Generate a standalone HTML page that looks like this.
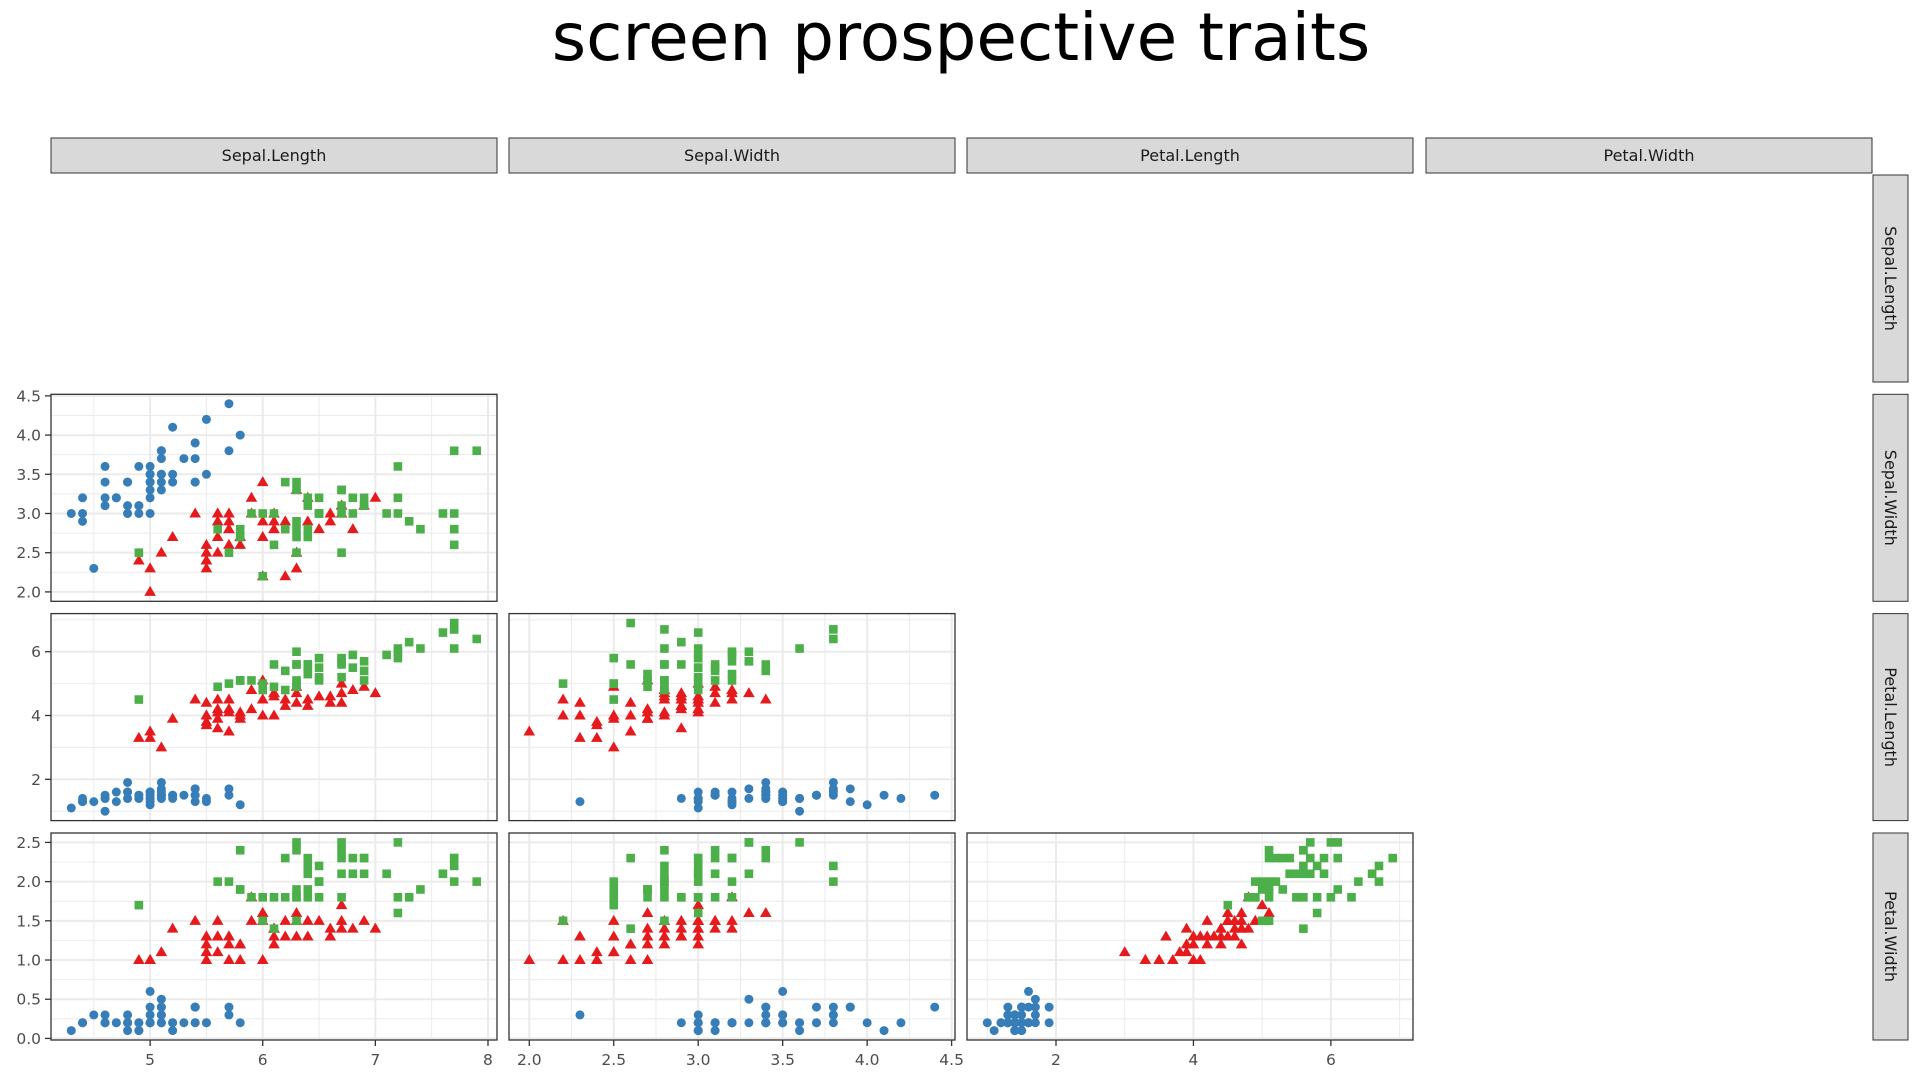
<!DOCTYPE html>
<html><head><meta charset="utf-8"><style>
html,body{margin:0;padding:0;background:#fff;}
svg{display:block;font-family:"DejaVu Sans","Liberation Sans",sans-serif;}
</style></head><body>
<svg id="chart" width="1920" height="1080" viewBox="0 0 1920 1080" xmlns="http://www.w3.org/2000/svg">
<text x="961" y="60" text-anchor="middle" font-size="66" fill="#000">screen prospective traits</text>
</svg>
<script>
const varNames = ["Sepal.Length","Sepal.Width","Petal.Length","Petal.Width"];
const speciesNames = ["setosa","versicolor","virginica"];
const speciesColors = ["#377EB8","#E41A1C","#4DAF4A"];
const sepalLength = [5.1,4.9,4.7,4.6,5.0,5.4,4.6,5.0,4.4,4.9,5.4,4.8,4.8,4.3,5.8,5.7,5.4,5.1,5.7,5.1,5.4,5.1,4.6,5.1,4.8,5.0,5.0,5.2,5.2,4.7,4.8,5.4,5.2,5.5,4.9,5.0,5.5,4.9,4.4,5.1,5.0,4.5,4.4,5.0,5.1,4.8,5.1,4.6,5.3,5.0,
7.0,6.4,6.9,5.5,6.5,5.7,6.3,4.9,6.6,5.2,5.0,5.9,6.0,6.1,5.6,6.7,5.6,5.8,6.2,5.6,5.9,6.1,6.3,6.1,6.4,6.6,6.8,6.7,6.0,5.7,5.5,5.5,5.8,6.0,5.4,6.0,6.7,6.3,5.6,5.5,5.5,6.1,5.8,5.0,5.6,5.7,5.7,6.2,5.1,5.7,
6.3,5.8,7.1,6.3,6.5,7.6,4.9,7.3,6.7,7.2,6.5,6.4,6.8,5.7,5.8,6.4,6.5,7.7,7.7,6.0,6.9,5.6,7.7,6.3,6.7,7.2,6.2,6.1,6.4,7.2,7.4,7.9,6.4,6.3,6.1,7.7,6.3,6.4,6.0,6.9,6.7,6.9,5.8,6.8,6.7,6.7,6.3,6.5,6.2,5.9];
const sepalWidth = [3.5,3.0,3.2,3.1,3.6,3.9,3.4,3.4,2.9,3.1,3.7,3.4,3.0,3.0,4.0,4.4,3.9,3.5,3.8,3.8,3.4,3.7,3.6,3.3,3.4,3.0,3.4,3.5,3.4,3.2,3.1,3.4,4.1,4.2,3.1,3.2,3.5,3.6,3.0,3.4,3.5,2.3,3.2,3.5,3.8,3.0,3.8,3.2,3.7,3.3,
3.2,3.2,3.1,2.3,2.8,2.8,3.3,2.4,2.9,2.7,2.0,3.0,2.2,2.9,2.9,3.1,3.0,2.7,2.2,2.5,3.2,2.8,2.5,2.8,2.9,3.0,2.8,3.0,2.9,2.6,2.4,2.4,2.7,2.7,3.0,3.4,3.1,2.3,3.0,2.5,2.6,3.0,2.6,2.3,2.7,3.0,2.9,2.9,2.5,2.8,
3.3,2.7,3.0,2.9,3.0,3.0,2.5,2.9,2.5,3.6,3.2,2.7,3.0,2.5,2.8,3.2,3.0,3.8,2.6,2.2,3.2,2.8,2.8,2.7,3.3,3.2,2.8,3.0,2.8,3.0,2.8,3.8,2.8,2.8,2.6,3.0,3.4,3.1,3.0,3.1,3.1,3.1,2.7,3.2,3.3,3.0,2.5,3.0,3.4,3.0];
const petalLength = [1.4,1.4,1.3,1.5,1.4,1.7,1.4,1.5,1.4,1.5,1.5,1.6,1.4,1.1,1.2,1.5,1.3,1.4,1.7,1.5,1.7,1.5,1.0,1.7,1.9,1.6,1.6,1.5,1.4,1.6,1.6,1.5,1.5,1.4,1.5,1.2,1.3,1.4,1.3,1.5,1.3,1.3,1.3,1.6,1.9,1.4,1.6,1.4,1.5,1.4,
4.7,4.5,4.9,4.0,4.6,4.5,4.7,3.3,4.6,3.9,3.5,4.2,4.0,4.7,3.6,4.4,4.5,4.1,4.5,3.9,4.8,4.0,4.9,4.7,4.3,4.4,4.8,5.0,4.5,3.5,3.8,3.7,3.9,5.1,4.5,4.5,4.7,4.4,4.1,4.0,4.4,4.6,4.0,3.3,4.2,4.2,4.2,4.3,3.0,4.1,
6.0,5.1,5.9,5.6,5.8,6.6,4.5,6.3,5.8,6.1,5.1,5.3,5.5,5.0,5.1,5.3,5.5,6.7,6.9,5.0,5.7,4.9,6.7,4.9,5.7,6.0,4.8,4.9,5.6,5.8,6.1,6.4,5.6,5.1,5.6,6.1,5.6,5.5,4.8,5.4,5.6,5.1,5.1,5.9,5.7,5.2,5.0,5.2,5.4,5.1];
const petalWidth = [0.2,0.2,0.2,0.2,0.2,0.4,0.3,0.2,0.2,0.1,0.2,0.2,0.1,0.1,0.2,0.4,0.4,0.3,0.3,0.3,0.2,0.4,0.2,0.5,0.2,0.2,0.4,0.2,0.2,0.2,0.2,0.4,0.1,0.2,0.2,0.2,0.2,0.1,0.2,0.2,0.3,0.3,0.2,0.6,0.4,0.3,0.2,0.2,0.2,0.2,
1.4,1.5,1.5,1.3,1.5,1.3,1.6,1.0,1.3,1.4,1.0,1.5,1.0,1.4,1.3,1.4,1.5,1.0,1.5,1.1,1.8,1.3,1.5,1.2,1.3,1.4,1.4,1.7,1.5,1.0,1.1,1.0,1.2,1.6,1.5,1.6,1.5,1.3,1.3,1.3,1.2,1.4,1.2,1.0,1.3,1.2,1.3,1.3,1.1,1.3,
2.5,1.9,2.1,1.8,2.2,2.1,1.7,1.8,1.8,2.5,2.0,1.9,2.1,2.0,2.4,2.3,1.8,2.2,2.3,1.5,2.3,2.0,2.0,1.8,2.1,1.8,1.8,1.8,2.1,1.6,1.9,2.0,2.2,1.5,1.4,2.3,2.4,1.8,1.8,2.1,2.4,2.3,1.9,2.3,2.5,2.3,1.9,2.0,2.3,1.8];
const species = [].concat(Array(50).fill(0),Array(50).fill(1),Array(50).fill(2));
const majorTicks = [[5,6,7,8],[2.0,2.5,3.0,3.5,4.0,4.5],[2,4,6],[0.0,0.5,1.0,1.5,2.0,2.5]];
const tickLabels = [["5","6","7","8"],["2.0","2.5","3.0","3.5","4.0","4.5"],["2","4","6"],["0.0","0.5","1.0","1.5","2.0","2.5"]];
const minorTicks = [[4.5,5.5,6.5,7.5],[2.25,2.75,3.25,3.75,4.25],[1,3,5,7],[0.25,0.75,1.25,1.75,2.25]];

const svg = document.getElementById('chart');
const NS = "http://www.w3.org/2000/svg";
const vars = [sepalLength, sepalWidth, petalLength, petalWidth];
const colX = [51,509,967,1426], panelW = 446;
const rowY = [175,394.3,613.6,833], panelH = 207;
function mk(tag, attrs, parent){const e=document.createElementNS(NS,tag);for(const k in attrs)e.setAttribute(k,attrs[k]);(parent||svg).appendChild(e);return e;}
function range(v){const mn=Math.min(...v),mx=Math.max(...v),d=(mx-mn)*0.05;return [mn-d,mx+d];}
const ranges = vars.map(range);
function sx(c,v){const r=ranges[c];return colX[c]+(v-r[0])/(r[1]-r[0])*panelW;}
function sy(r,v){const g=ranges[r];return rowY[r]+panelH-(v-g[0])/(g[1]-g[0])*panelH;}

// column strips
for(let c=0;c<4;c++){
  const g=mk('g',{});
  
  
  mk('rect',{x:colX[c],y:138,width:panelW,height:35,fill:'#d9d9d9',stroke:'#333',"stroke-width":1},g);
  const t=mk('text',{x:colX[c]+panelW/2,y:161,"text-anchor":"middle","font-size":16,fill:'#1a1a1a'},g);t.textContent=varNames[c];
}
// row strips
for(let r=0;r<4;r++){
  const g=mk('g',{});
  
  
  mk('rect',{x:1873,y:rowY[r],width:35,height:panelH,fill:'#d9d9d9',stroke:'#333',"stroke-width":1},g);
  const cx=1885,cy=rowY[r]+panelH/2;
  const t=mk('text',{x:cx,y:cy,"text-anchor":"middle","font-size":16,fill:'#1a1a1a',transform:`rotate(90 ${cx} ${cy})`},g);t.textContent=varNames[r];
}
// panels
for(let r=1;r<4;r++){
  for(let c=0;c<r;c++){
    const g=mk('g',{});
    
    
    const x0=colX[c],y0=rowY[r];
    mk('rect',{x:x0,y:y0,width:panelW,height:panelH,fill:'#fff'},g);
    minorTicks[c].forEach(v=>{const x=sx(c,v);if(x>x0&&x<x0+panelW){const l=mk('line',{x1:x,x2:x,y1:y0,y2:y0+panelH,stroke:'#ebebeb',"stroke-width":1},g);}});
    minorTicks[r].forEach(v=>{const y=sy(r,v);if(y>y0&&y<y0+panelH){const l=mk('line',{x1:x0,x2:x0+panelW,y1:y,y2:y,stroke:'#ebebeb',"stroke-width":1},g);}});
    majorTicks[c].forEach(v=>{const x=sx(c,v);if(x>x0&&x<x0+panelW){const l=mk('line',{x1:x,x2:x,y1:y0,y2:y0+panelH,stroke:'#ebebeb',"stroke-width":2},g);}});
    majorTicks[r].forEach(v=>{const y=sy(r,v);if(y>y0&&y<y0+panelH){const l=mk('line',{x1:x0,x2:x0+panelW,y1:y,y2:y,stroke:'#ebebeb',"stroke-width":2},g);}});
    // points
    const xs=vars[c], ys=vars[r];
    for(let i=0;i<xs.length;i++){
      const px=sx(c,xs[i]), py=sy(r,ys[i]), s=species[i], col=speciesColors[s];
      let p;
      if(s===0){p=mk('circle',{cx:px,cy:py,r:4.5,fill:col},g);}
      else if(s===1){p=mk('polygon',{points:`${px},${py-6} ${px-5.8},${py+4} ${px+5.8},${py+4}`,fill:col},g);}
      else {p=mk('rect',{x:px-4.3,y:py-4.3,width:8.6,height:8.6,fill:col},g);}
      
      
    }
    mk('rect',{x:x0,y:y0,width:panelW,height:panelH,fill:'none',stroke:'#333',"stroke-width":1.3},g);
    // y axis
    if(c===0){
      majorTicks[r].forEach((v,k)=>{const y=sy(r,v);
        const tk=mk('line',{x1:x0-6,x2:x0,y1:y,y2:y,stroke:'#333',"stroke-width":1.3});
        
        const t=mk('text',{x:x0-10,y:y+5.5,"text-anchor":"end","font-size":15.5,fill:'#4d4d4d'});
        
        t.textContent=tickLabels[r][k];});
    }
    if(r===3){
      majorTicks[c].forEach((v,k)=>{const x=sx(c,v);
        const tk=mk('line',{x1:x,x2:x,y1:y0+panelH,y2:y0+panelH+6,stroke:'#333',"stroke-width":1.3});
        
        const t=mk('text',{x:x,y:y0+panelH+25,"text-anchor":"middle","font-size":15.5,fill:'#4d4d4d'});
        
        t.textContent=tickLabels[c][k];});
    }
  }
}
</script>
</body></html>
